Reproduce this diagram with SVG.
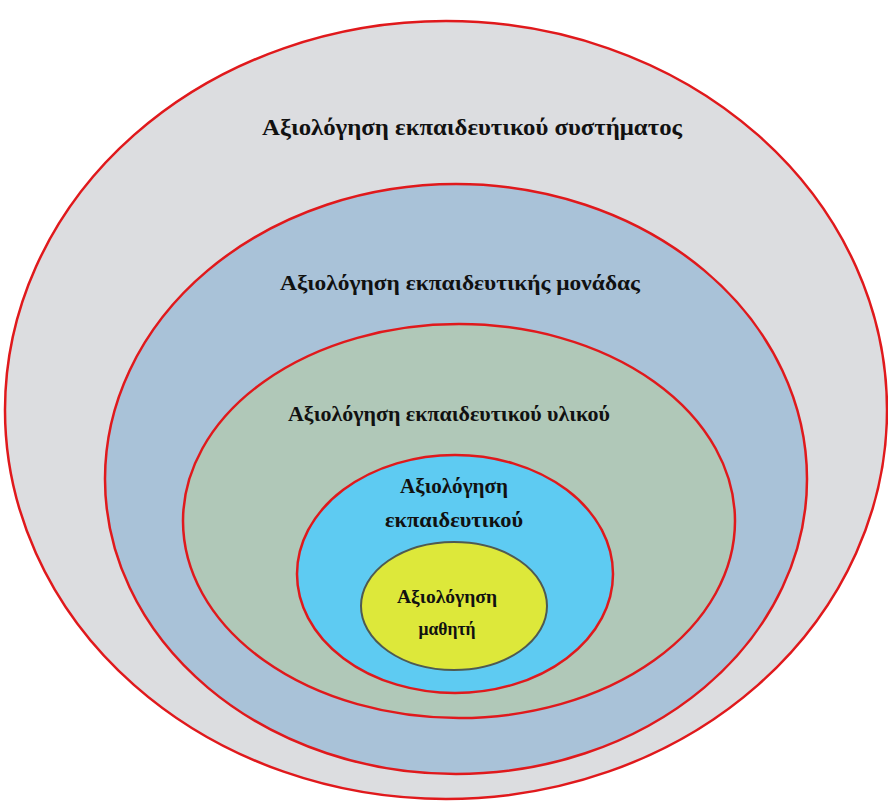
<svg xmlns="http://www.w3.org/2000/svg" width="888" height="802" viewBox="0 0 888 802">
<style>
.ring{stroke:#e0191c;stroke-width:2.5}
.t{font-family:"Liberation Serif","DejaVu Serif",serif;font-weight:bold;fill:#111;text-anchor:middle}
</style>
<rect width="888" height="802" fill="#ffffff"/>
<g id="system">
<ellipse class="ring" cx="446" cy="410" rx="441" ry="389" fill="#dcdde0"/>
<text class="t" x="472" y="135" font-size="24" textLength="420" lengthAdjust="spacingAndGlyphs">Αξιολόγηση εκπαιδευτικού συστήματος</text>
</g>
<g id="unit">
<ellipse class="ring" cx="456" cy="479" rx="351" ry="295" fill="#a9c2d8"/>
<text class="t" x="460" y="290" font-size="21" textLength="360" lengthAdjust="spacingAndGlyphs">Αξιολόγηση εκπαιδευτικής μονάδας</text>
</g>
<g id="material">
<ellipse class="ring" cx="459" cy="521" rx="276" ry="197" fill="#b0c8b8"/>
<text class="t" x="449" y="421" font-size="21" textLength="322" lengthAdjust="spacingAndGlyphs">Αξιολόγηση εκπαιδευτικού υλικού</text>
</g>
<g id="teacher">
<ellipse class="ring" cx="455" cy="574" rx="158" ry="119" fill="#5ecbf2"/>
<text class="t" x="454" y="493" font-size="21" textLength="108" lengthAdjust="spacingAndGlyphs">Αξιολόγηση</text>
<text class="t" x="454" y="527" font-size="21" textLength="138" lengthAdjust="spacingAndGlyphs">εκπαιδευτικού</text>
</g>
<g id="student">
<ellipse cx="454" cy="606" rx="93" ry="64" fill="#dde83a" stroke="#4f5a52" stroke-width="2"/>
<text class="t" x="447" y="603" font-size="18" textLength="100" lengthAdjust="spacingAndGlyphs">Αξιολόγηση</text>
<text class="t" x="447" y="635" font-size="18" textLength="57" lengthAdjust="spacingAndGlyphs">μαθητή</text>
</g>
<g id="connectors"></g>
</svg>
